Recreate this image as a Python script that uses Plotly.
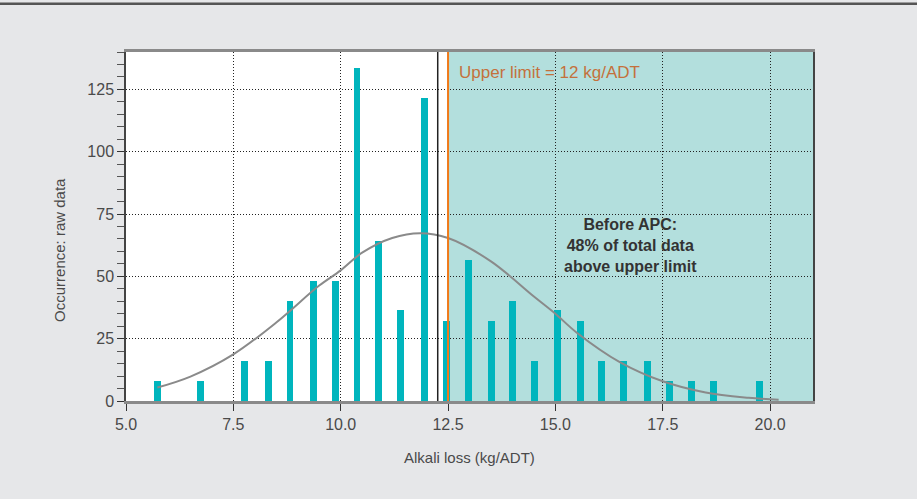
import plotly.graph_objects as go

# Histogram of alkali loss (bin centres, kg/ADT) and occurrences
bin_centres = [5.73, 6.73, 7.75, 8.31, 8.82, 9.36, 9.87, 10.38, 10.89, 11.40,
               11.96, 12.47, 12.98, 13.52, 14.01, 14.52, 15.05, 15.59, 16.08,
               16.59, 17.15, 17.66, 18.17, 18.68, 19.75]
occurrence = [8, 8, 16, 16, 40, 48, 48, 133.5, 64, 36.5,
              121.5, 32, 56.5, 32, 40, 16, 36.5, 32, 16,
              16, 16, 8, 8, 8, 8]

# Fitted distribution curve (sampled points)
curve_x = [5.73, 6.5, 7.5, 8.5, 9.5, 10.0, 10.5, 11.2, 11.85, 12.5, 13.5,
           14.5, 15.0, 15.5, 16.5, 17.5, 18.5, 19.5, 20.2]
curve_y = [5.4, 9.8, 18.7, 31.5, 46.3, 52.4, 59.5, 65.4, 67.3, 65.4, 56.0,
           41.9, 35.0, 27.4, 15.6, 7.9, 3.4, 1.3, 0.5]

mean_line = 12.26
upper_limit = 12.5
x_range = [5, 21]
y_range = [0, 140]
x_ticks = [5.0, 7.5, 10.0, 12.5, 15.0, 17.5, 20.0]
y_ticks = [0, 25, 50, 75, 100, 125]

FONT = "Liberation Sans, Arial, sans-serif"
TEXT = "#4a4a4a"

fig = go.Figure()

fig.add_trace(go.Bar(
    x=bin_centres, y=occurrence, width=0.16,
    marker=dict(color="#00b5bd", line=dict(width=0)),
    showlegend=False,
))
fig.add_trace(go.Scatter(
    x=curve_x, y=curve_y, mode="lines",
    line=dict(color="#8a8a8a", width=2, shape="spline", smoothing=1.0),
    showlegend=False,
))

shapes = [
    # region above the upper limit
    dict(type="rect", xref="x", yref="y", x0=upper_limit, x1=x_range[1],
         y0=y_range[0], y1=y_range[1], fillcolor="#b3dfdd",
         line=dict(width=0), layer="below"),
    dict(type="line", xref="x", yref="y", x0=mean_line, x1=mean_line,
         y0=y_range[0], y1=y_range[1], line=dict(color="#222222", width=1.5),
         layer="above"),
    dict(type="line", xref="x", yref="y", x0=upper_limit, x1=upper_limit,
         y0=y_range[0], y1=y_range[1], line=dict(color="#f07a1a", width=2),
         layer="above"),
    # rule across the top of the page
    dict(type="line", xref="paper", yref="paper", x0=-0.2, x1=1.2,
         y0=1.138, y1=1.138, line=dict(color="#555555", width=2.5)),
]

annotations = [
    dict(x=12.72, y=131.6, xref="x", yref="y", xanchor="left", yanchor="middle",
         text="Upper limit = 12 kg/ADT", showarrow=False,
         font=dict(family=FONT, size=17, color="#c4713c")),
    dict(x=16.74, y=62.4, xref="x", yref="y", xanchor="center", yanchor="middle",
         text="<b>Before APC:<br>48% of total data<br>above upper limit</b>",
         showarrow=False, align="center",
         font=dict(family=FONT, size=16, color="#333333")),
    dict(x=0.5, y=-0.163, xref="paper", yref="paper", xanchor="center",
         yanchor="middle", text="Alkali loss (kg/ADT)", showarrow=False,
         font=dict(family=FONT, size=15, color=TEXT)),
    dict(x=-0.096, y=0.433, xref="paper", yref="paper", xanchor="center",
         yanchor="middle", text="Occurrence: raw data", showarrow=False,
         textangle=-90, font=dict(family=FONT, size=15, color=TEXT)),
]

GRID_DASH = "1px,2px"

fig.update_layout(
    width=917, height=499,
    margin=dict(l=126, r=104, t=52, b=98, pad=0),
    paper_bgcolor="#e6e7e9", plot_bgcolor="#ffffff",
    bargap=0, shapes=shapes, annotations=annotations,
    font=dict(family=FONT, size=16, color=TEXT),
    xaxis=dict(
        range=x_range, tickvals=x_ticks,
        ticktext=[f"{v:.1f}" for v in x_ticks],
        ticks="outside", ticklen=7, tickcolor="#333333", tickwidth=1.2,
        showline=True, linecolor="#8a8a8a", linewidth=2.5, mirror=True,
        showgrid=True, gridcolor="#222222", gridwidth=1, griddash=GRID_DASH,
        zeroline=False, tickfont=dict(size=16, color=TEXT),
    ),
    yaxis=dict(
        range=y_range, tickvals=y_ticks,
        ticks="outside", ticklen=7, tickcolor="#333333", tickwidth=1.2,
        minor=dict(dtick=5, ticks="outside", ticklen=7, tickcolor="#555555",
                   tickwidth=1.2, showgrid=False),
        showline=True, linecolor="#444444", linewidth=1.5, mirror=True,
        showgrid=True, gridcolor="#222222", gridwidth=1, griddash=GRID_DASH,
        zeroline=False, tickfont=dict(size=16, color=TEXT),
    ),
)

fig.write_html("out.html")
